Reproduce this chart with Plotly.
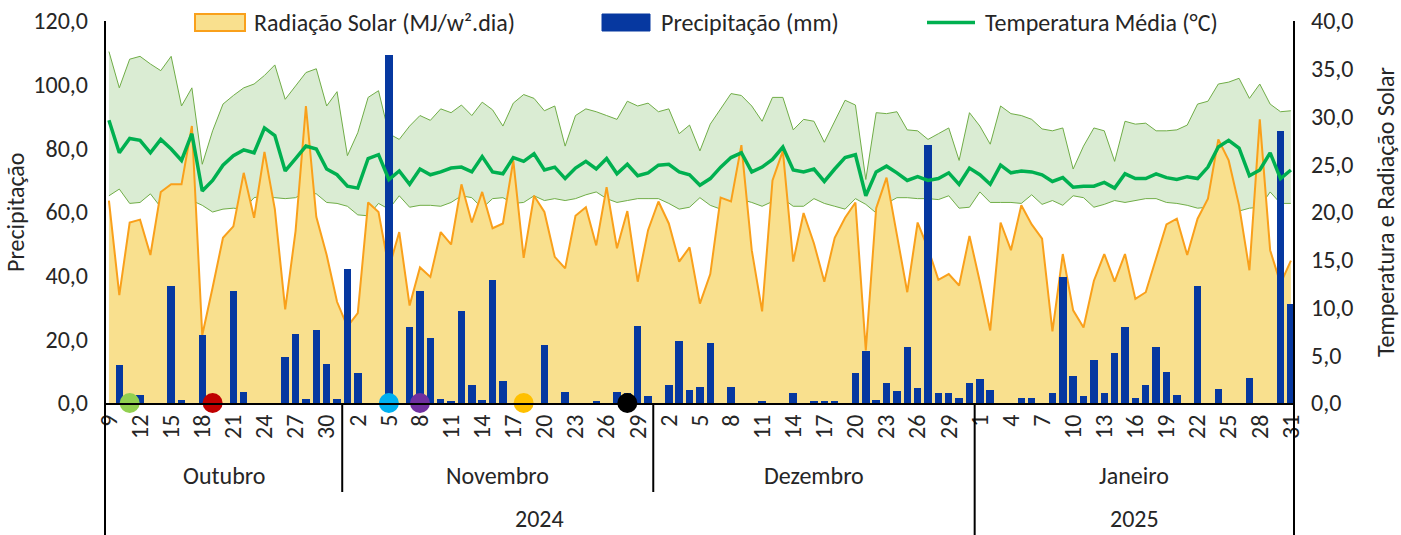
import pandas as pd
import plotly.graph_objects as go

# ---------------- data ----------------
dates = pd.date_range("2024-10-09", "2025-01-31", freq="D")

precip_oct = [0, 11.9, 0, 2.4, 0, 0, 36.8, 1.1, 0, 21.5, 0, 0, 35.2, 3.5, 0, 0, 0, 14.3, 21.8, 1.3, 22.9, 12.2, 1.3]
precip_nov = [42.2, 9.5, 0, 0, 109.3, 0, 23.9, 35.3, 20.5, 1.3, 0.5, 28.8, 5.6, 1.0, 38.5, 7.0, 0, 0, 0, 18.2,
              0, 3.5, 0, 0, 0.5, 0, 3.5, 3.0, 24.2, 2.3]
precip_dec = [0, 5.6, 19.4, 4.0, 5.1, 18.7, 0, 5.1, 0, 0, 0.5, 0, 0, 3.0, 0, 0.5, 0.5, 0.5, 0, 9.5,
              16.4, 1.0, 6.3, 3.9, 17.5, 4.6, 80.9, 3.0, 3.0, 1.5, 6.3]
precip_jan = [7.5, 4.2, 0, 0, 1.7, 1.7, 0, 3.0, 39.6, 8.5, 2.2, 13.5, 3.0, 15.6, 23.9, 1.5, 5.6, 17.5, 9.8, 2.6,
              0, 36.8, 0, 4.3, 0, 0, 7.7, 0, 0, 85.6, 31.1]

rad_oct = [21.2, 11.3, 18.9, 19.2, 15.5, 22.1, 22.9, 22.9, 29.0, 7.1, 12.1, 17.3, 18.5, 24.1, 19.4, 26.3, 20.3,
           9.8, 18.0, 31.1, 19.5, 15.5, 10.6]
rad_nov = [8.0, 9.4, 21.0, 20.0, 14.1, 17.9, 10.2, 14.2, 13.2, 17.9, 16.6, 22.9, 18.9, 22.1, 18.3, 18.8, 25.4,
           15.2, 21.7, 20.0, 15.3, 14.1, 19.6, 20.5, 16.5, 22.6, 16.2, 20.1, 12.7, 18.1]
rad_dec = [21.1, 18.8, 14.8, 16.3, 10.4, 13.5, 21.5, 21.1, 27.0, 16.0, 9.6, 23.3, 26.4, 14.8, 19.9, 16.7, 12.7,
           17.3, 19.4, 21.0, 5.5, 20.4, 23.6, 17.6, 11.6, 18.9, 16.2, 12.9, 13.5, 12.3, 17.5]
rad_jan = [12.7, 7.6, 18.9, 16.0, 20.7, 18.7, 17.2, 7.5, 15.6, 9.7, 7.9, 12.8, 15.6, 12.7, 15.6, 10.9, 11.6,
           15.2, 18.7, 19.3, 15.5, 19.3, 21.4, 27.6, 25.4, 20.7, 13.9, 29.7, 16.0, 12.5, 14.9]

tmean_oct = [29.6, 26.2, 27.7, 27.5, 26.2, 27.6, 26.6, 25.4, 28.2, 22.2, 23.3, 24.9, 25.9, 26.5, 26.2, 28.8,
             28.0, 24.3, 25.6, 26.9, 26.6, 24.5, 23.9]
tmean_nov = [22.7, 22.5, 25.6, 26.0, 23.4, 24.3, 22.9, 24.5, 23.9, 24.2, 24.6, 24.7, 24.2, 25.8, 24.2, 24.0,
             25.7, 25.3, 26.1, 24.4, 24.7, 23.5, 24.6, 25.3, 24.5, 25.6, 24.0, 25.0, 23.8, 24.1]
tmean_dec = [24.9, 25.0, 24.2, 23.9, 22.8, 23.5, 24.7, 25.7, 26.2, 24.2, 24.7, 25.5, 26.8, 24.4, 24.2, 24.5,
             23.2, 24.5, 25.7, 26.0, 21.7, 24.2, 24.8, 24.1, 23.3, 23.7, 23.3, 23.5, 24.1, 22.9, 24.6]
tmean_jan = [23.9, 22.9, 24.9, 24.1, 24.3, 24.2, 23.9, 23.2, 23.6, 22.6, 22.7, 22.7, 23.1, 22.5, 24.0, 23.5,
             23.5, 24.0, 23.6, 23.4, 23.7, 23.5, 24.7, 26.8, 27.5, 26.7, 23.8, 24.4, 26.2, 23.5, 24.4]

tmax_oct = [36.8, 33.0, 36.0, 36.3, 35.5, 34.8, 36.3, 31.1, 33.0, 25.0, 28.5, 31.3, 32.2, 33.0, 33.4, 34.3,
            35.4, 31.8, 33.2, 34.6, 35.0, 31.1, 32.6]
tmax_nov = [25.9, 28.3, 32.0, 32.7, 28.2, 27.6, 29.0, 30.1, 29.6, 30.8, 30.4, 31.2, 30.1, 31.5, 30.7, 29.0,
            31.4, 32.3, 31.9, 30.6, 31.1, 26.9, 30.1, 30.8, 30.5, 30.1, 29.7, 31.6, 31.1, 31.4]
tmax_dec = [30.5, 30.8, 28.2, 29.1, 26.4, 29.2, 30.8, 32.4, 32.2, 31.1, 29.5, 32.0, 32.0, 28.6, 29.7, 29.5,
            27.3, 29.5, 31.7, 31.2, 23.4, 30.4, 30.3, 30.5, 28.6, 28.5, 27.6, 28.2, 28.8, 25.4, 30.4]
tmax_jan = [29.0, 27.1, 31.1, 30.3, 30.1, 29.7, 28.7, 28.5, 28.8, 24.5, 26.9, 28.8, 28.5, 25.3, 29.5, 29.2,
            29.3, 28.5, 28.5, 28.6, 29.1, 31.3, 31.6, 33.4, 33.6, 34.0, 31.9, 33.4, 31.3, 30.5, 30.6]

tmin_oct = [21.7, 22.4, 20.9, 21.0, 21.9, 20.5, 21.0, 21.0, 21.2, 20.7, 20.0, 20.3, 20.4, 20.3, 21.5, 21.7,
            21.5, 21.4, 21.5, 22.1, 21.9, 21.0, 20.9]
tmin_nov = [20.6, 19.7, 19.6, 20.9, 20.3, 21.7, 20.5, 20.7, 20.7, 20.6, 21.0, 21.7, 21.5, 20.4, 21.4, 21.5,
            20.9, 21.0, 21.7, 21.2, 21.4, 21.2, 21.4, 21.8, 22.1, 21.4, 21.0, 21.2, 21.4, 21.4]
tmin_dec = [21.4, 20.9, 20.3, 20.5, 21.5, 20.7, 20.3, 21.0, 21.3, 21.0, 20.6, 21.1, 21.4, 20.6, 20.6, 21.4,
            20.9, 20.6, 20.3, 21.4, 20.8, 19.9, 20.9, 21.5, 21.5, 21.4, 21.4, 21.3, 21.7, 20.4, 20.5]
tmin_jan = [22.1, 21.0, 21.0, 21.0, 20.9, 21.8, 20.8, 21.2, 20.7, 21.7, 21.5, 20.5, 20.8, 21.2, 21.0, 21.2,
            21.4, 21.4, 21.0, 20.9, 20.7, 20.4, 20.5, 20.6, 20.3, 20.1, 20.4, 20.5, 22.1, 20.9, 20.9]

event_dates = ["2024-10-11", "2024-10-19", "2024-11-05", "2024-11-08", "2024-11-18", "2024-11-28"]
event_colors = ["#92D050", "#C00000", "#00B0F0", "#7030A0", "#FFC000", "#000000"]

month_names = ["Outubro", "Novembro", "Dezembro", "Janeiro"]
month_starts = ["2024-10-01", "2024-11-01", "2024-12-01", "2025-01-01"]
year_names = ["2024", "2025"]
year_starts = ["2024-01-01", "2025-01-01"]

legend_labels = ["Radiação Solar (MJ/w².dia)", "Precipitação (mm)", "Temperatura Média (°C)"]
left_title = "Precipitação"
right_title = "Temperatura e Radiação Solar"

precip = precip_oct + precip_nov + precip_dec + precip_jan
rad = rad_oct + rad_nov + rad_dec + rad_jan
tmean = tmean_oct + tmean_nov + tmean_dec + tmean_jan
tmax = tmax_oct + tmax_nov + tmax_dec + tmax_jan
tmin = tmin_oct + tmin_nov + tmin_dec + tmin_jan

# ---------------- style ----------------
FONT = "Calibri, Carlito, Lato, sans-serif"
FS = 24
TXT = "#262626"
C_RAD_LINE = "#F9A01B"
C_RAD_FILL = "#F9E08E"
C_BAR = "#0638A0"
C_TMEAN = "#00B050"
C_BAND_LINE = "#70AD47"
C_BAND_FILL = "#DAECD3"

W, H = 1401, 535
ML, MR, MT, MB = 105, 107, 21, 132
PW, PH = W - ML - MR, H - MT - MB

day = pd.Timedelta(days=1)
x0 = dates[0] - 0.38 * day
x1 = dates[-1] + 0.30 * day

fig = go.Figure()

# temperature band (base axis y, right side)
fig.add_trace(go.Scatter(x=dates, y=tmin, mode="lines", line=dict(color=C_BAND_LINE, width=1),
                         showlegend=False, yaxis="y", hoverinfo="skip"))
fig.add_trace(go.Scatter(x=dates, y=tmax, mode="lines", line=dict(color=C_BAND_LINE, width=1),
                         fill="tonexty", fillcolor=C_BAND_FILL, showlegend=False, yaxis="y", hoverinfo="skip"))
# solar radiation area
fig.add_trace(go.Scatter(x=dates, y=rad, mode="lines", line=dict(color=C_RAD_LINE, width=2),
                         fill="tozeroy", fillcolor=C_RAD_FILL, name=legend_labels[0], showlegend=False,
                         yaxis="y"))
# precipitation bars (left axis, overlay)
fig.add_trace(go.Bar(x=dates, y=precip, marker=dict(color=C_BAR, line=dict(width=0)),
                     width=0.72 * 86400000, name=legend_labels[1], showlegend=False, yaxis="y2"))
# mean temperature (on top)
fig.add_trace(go.Scatter(x=dates, y=tmean, mode="lines", line=dict(color=C_TMEAN, width=3.5),
                         name=legend_labels[2], showlegend=False, yaxis="y3"))
# event markers
fig.add_trace(go.Scatter(x=pd.to_datetime(event_dates), y=[0] * len(event_dates), mode="markers",
                         marker=dict(color=event_colors, size=20, line=dict(width=0)),
                         cliponaxis=False, showlegend=False, yaxis="y3", hoverinfo="skip"))

tick_dates = dates[::3]
tick_text = [str(d.day) for d in tick_dates]
tfont = dict(size=FS, family=FONT, color=TXT)

fig.update_layout(
    width=W, height=H,
    margin=dict(l=ML, r=MR, t=MT, b=MB, pad=0),
    paper_bgcolor="white", plot_bgcolor="white",
    separators=",.",
    font=dict(family=FONT, color=TXT, size=FS),
    bargap=0,
    xaxis=dict(type="date", range=[x0, x1], tickvals=tick_dates, ticktext=tick_text, tickangle=-90,
               tickfont=tfont, showgrid=False, zeroline=False, automargin=False,
               showline=True, linecolor="black", linewidth=2, ticks="", ticklabelstandoff=0),
    yaxis=dict(range=[0, 40], tick0=0, dtick=5, tickformat=".1f", side="right", showgrid=False,
               zeroline=False, showline=False, ticks="", ticklabelstandoff=16, automargin=False,
               tickfont=tfont),
    yaxis2=dict(range=[0, 120], tick0=0, dtick=20, tickformat=".1f", side="left", overlaying="y",
                showgrid=False, zeroline=False, showline=False, ticks="", ticklabelstandoff=16,
                automargin=False, tickfont=tfont),
    yaxis3=dict(range=[0, 40], overlaying="y", visible=False),
    showlegend=False,
)

def px_x(px):
    return (px - ML) / PW

def px_y(py):
    return (H - MB - py) / PH

shapes = []
ybottom = px_y(H)
# left and right axis lines, extended through category area
for xp in (0, 1):
    shapes.append(dict(type="line", xref="paper", yref="paper", x0=xp, x1=xp, y0=ybottom, y1=1,
                       line=dict(color="black", width=2), layer="above"))

# month separators / labels
bounds = [x0] + [pd.Timestamp(m) - 0.5 * day for m in month_starts[1:]] + [x1]
year_bound = pd.Timestamp(year_starts[1]) - 0.5 * day
annotations = []
for i, name in enumerate(month_names):
    mid = bounds[i] + (bounds[i + 1] - bounds[i]) / 2
    annotations.append(dict(x=mid, y=px_y(475), xref="x", yref="paper", text=name, showarrow=False,
                            xanchor="center", yanchor="middle", font=tfont))
for b in bounds[1:-1]:
    yb = ybottom if b == year_bound else px_y(492)
    shapes.append(dict(type="line", xref="x", yref="paper", x0=b, x1=b, y0=0, y1=yb,
                       line=dict(color="black", width=2), layer="above"))
ybounds = [x0, year_bound, x1]
for i, name in enumerate(year_names):
    mid = ybounds[i] + (ybounds[i + 1] - ybounds[i]) / 2
    annotations.append(dict(x=mid, y=px_y(518), xref="x", yref="paper", text=name, showarrow=False,
                            xanchor="center", yanchor="middle", borderpad=0, font=tfont))

# axis titles
annotations.append(dict(x=px_x(15), y=0.5, xref="paper", yref="paper", text=left_title, textangle=-90,
                        showarrow=False, xanchor="center", yanchor="middle", font=tfont))
annotations.append(dict(x=px_x(1385), y=0.5, xref="paper", yref="paper", text=right_title, textangle=-90,
                        showarrow=False, xanchor="center", yanchor="middle", font=tfont))

# legend (drawn manually)
ly_top, ly_bot, ly_mid = px_y(14), px_y(31), px_y(22.5)
shapes.append(dict(type="rect", xref="paper", yref="paper", x0=px_x(195), x1=px_x(245), y0=ly_bot, y1=ly_top,
                   fillcolor=C_RAD_FILL, line=dict(color=C_RAD_LINE, width=2), layer="above"))
shapes.append(dict(type="rect", xref="paper", yref="paper", x0=px_x(602), x1=px_x(650), y0=ly_bot, y1=ly_top,
                   fillcolor=C_BAR, line=dict(color=C_BAR, width=1), layer="above"))
shapes.append(dict(type="line", xref="paper", yref="paper", x0=px_x(927), x1=px_x(975), y0=ly_mid, y1=ly_mid,
                   line=dict(color=C_TMEAN, width=3.5), layer="above"))
for xpx, lab in zip([252, 659, 983], legend_labels):
    annotations.append(dict(x=px_x(xpx), y=ly_mid, xref="paper", yref="paper", text=lab, showarrow=False,
                            xanchor="left", yanchor="middle", font=tfont))

fig.update_layout(shapes=shapes, annotations=annotations)

# remove default page margin so the figure sits at the window origin
fig.write_html("out.html", config={"displayModeBar": False},
               post_script="document.body.style.margin='0px';")
